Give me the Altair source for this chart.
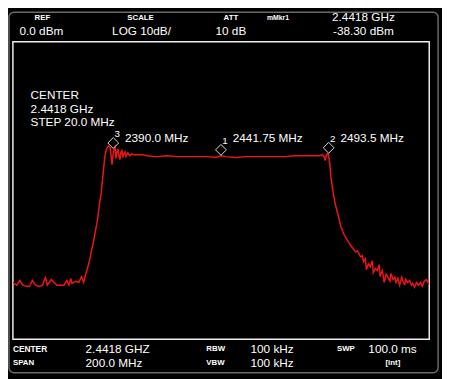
import altair as alt
import pandas as pd

# ---------------- data ----------------
freq_mhz = [
    2341.8, 2342.3, 2343.7, 2345.1, 2346.5, 2348.4, 2349.8, 2351.2, 2352.7, 2354.5,
    2356.0, 2357.4, 2358.3, 2360.2, 2361.6, 2363.0, 2364.9, 2366.3, 2367.7, 2368.7,
    2369.6, 2370.1, 2372.0, 2373.4, 2374.8, 2375.8,
    2376.7, 2377.6, 2378.6, 2379.5, 2380.5, 2381.4, 2382.4, 2383.3, 2384.3, 2385.2,
    2385.7, 2386.1, 2386.6, 2387.6, 2388.5, 2389.0, 2389.4, 2389.9, 2390.4, 2390.9,
    2391.3, 2391.8, 2392.3, 2392.7, 2393.2, 2393.7, 2394.2, 2394.6, 2395.1, 2395.6,
    2396.1, 2397.0, 2397.9, 2398.9, 2399.8, 2401.7, 2404.1, 2406.4, 2409.7,
    2411.1, 2415.9, 2420.6, 2425.3, 2430.0, 2434.7, 2439.4, 2441.8, 2444.1, 2448.9,
    2453.6, 2458.3, 2463.0, 2467.7, 2472.5, 2477.2, 2481.9, 2486.6, 2489.0, 2490.4,
    2491.3, 2491.8, 2492.3, 2492.7, 2493.2, 2493.7, 2494.2, 2494.6, 2495.1, 2495.6,
    2496.5, 2497.5, 2498.4, 2499.3, 2500.8, 2502.2, 2503.6, 2505.0, 2506.4, 2507.4,
    2508.8, 2509.7, 2510.2, 2511.1, 2511.6, 2512.6, 2513.5, 2514.4, 2514.9, 2515.9,
    2516.8, 2517.7, 2518.2, 2519.2, 2519.6, 2520.1, 2521.1, 2522.0, 2522.9, 2523.4,
    2524.4, 2525.3, 2525.8, 2526.7, 2527.6, 2528.6, 2529.1, 2530.0, 2530.5, 2531.4,
    2532.4, 2533.3, 2533.8, 2534.7, 2535.7, 2536.6, 2537.6, 2538.5, 2539.4, 2540.4,
    2541.3, 2541.8,
]
level_dbm = [
    -80.9, -81.2, -81.8, -80.2, -81.8, -82.2, -82.2, -80.2, -81.8, -82.2,
    -81.8, -79.2, -81.8, -79.9, -80.9, -81.8, -81.8, -81.8, -80.2, -81.8,
    -79.5, -81.2, -80.5, -80.9, -78.9, -80.9,
    -78.2, -76.2, -73.6, -70.3, -67.3, -63.7, -60.1, -55.1, -50.2, -43.9,
    -40.3, -38.0, -36.3, -35.0, -35.6, -38.3, -41.3, -38.0, -36.0, -35.3,
    -39.3, -37.0, -36.0, -38.3, -39.6, -37.0, -36.6, -38.9, -37.6, -37.0,
    -38.6, -37.3, -38.3, -37.6, -38.0, -38.0, -38.0, -38.3, -38.6,
    -38.6, -38.3, -38.6, -38.6, -38.6, -38.6, -38.9, -38.3, -38.6, -38.9,
    -38.6, -38.6, -38.6, -38.6, -38.6, -38.3, -38.3, -38.3, -38.3, -38.0,
    -38.6, -39.9, -38.3, -37.6, -37.6, -39.3, -42.2, -45.5, -48.2, -50.5,
    -54.1, -56.8, -59.4, -62.0, -64.7, -66.3, -68.0, -69.3, -70.6, -70.3,
    -72.3, -71.9, -73.9, -72.9, -76.6, -74.6, -75.6, -73.6, -77.6, -76.2,
    -76.9, -74.9, -78.9, -76.9, -78.2, -80.9, -78.2, -79.2, -80.5, -77.9,
    -79.9, -79.2, -80.9, -79.5, -81.8, -79.2, -80.5, -81.5, -79.9, -80.9,
    -80.2, -81.8, -81.2, -82.5, -80.9, -81.8, -80.9, -82.2, -80.5, -79.9,
    -80.9, -81.8,
]

marker_ids = ["3", "1", "2"]
marker_freq = [2390.0, 2441.75, 2493.5]
marker_level = [-36.0, -38.3, -37.6]
marker_text = ["2390.0 MHz", "2441.75 MHz", "2493.5 MHz"]

x_domain = [2341.8, 2541.8]
x_grid = [2341.8, 2361.8, 2381.8, 2401.8, 2421.8, 2441.8, 2461.8, 2481.8, 2501.8, 2521.8, 2541.8]
y_domain = [-100, 0]
y_grid = [-100, -90, -80, -70, -60, -50, -40, -30, -20, -10, 0]

header_labels = ["REF", "SCALE", "ATT", "mMkr1"]
header_values = ["0.0 dBm", "LOG 10dB/", "10 dB", "2.4418 GHz", "-38.30 dBm"]
footer_labels = ["CENTER", "RBW", "SWP", "SPAN", "VBW"]
footer_values = ["2.4418 GHZ", "100 kHz", "100.0 ms", "200.0 MHz", "100 kHz", "[int]"]
center_block = ["CENTER", "2.4418 GHz", "STEP 20.0 MHz"]

# ---------------- chart ----------------
FONT = "Liberation Sans"
GRID = "#3a3a3a"
W, H = 424, 303

trace = pd.DataFrame({"freq": freq_mhz, "dbm": level_dbm})
markers = pd.DataFrame({"id": marker_ids, "freq": marker_freq, "dbm": marker_level,
                        "label": marker_text})

xs = alt.Scale(domain=x_domain, nice=False, zero=False)
ys = alt.Scale(domain=y_domain, nice=False, zero=False)

X = alt.X("freq:Q", scale=xs,
          axis=alt.Axis(values=x_grid, grid=True, gridColor=GRID, gridWidth=1,
                        labels=False, ticks=False, domain=False, title=None))
Y = alt.Y("dbm:Q", scale=ys,
          axis=alt.Axis(values=y_grid, grid=True, gridColor=GRID, gridWidth=1,
                        labels=False, ticks=False, domain=False, title=None))
Xn = alt.X("freq:Q", scale=xs, axis=None)
Yn = alt.Y("dbm:Q", scale=ys, axis=None)

one = alt.Data(values=[{}])


def txt(s, x, y, size=12, bold=False, align="left"):
    return alt.Chart(one).mark_text(
        font=FONT, fontSize=size, fontWeight="bold" if bold else "normal",
        color="white", align=align, baseline="middle",
    ).encode(x=alt.value(x), y=alt.value(y), text=alt.value(s))


layers = []

# trace (carries the grid axes)
layers.append(alt.Chart(trace).mark_line(color="#f01414", strokeWidth=1.5, clip=True)
              .encode(x=X, y=Y))

# black box behind the CENTER block
layers.append(alt.Chart(one).mark_rect(color="black").encode(
    x=alt.value(15), x2=alt.value(106), y=alt.value(47), y2=alt.value(88)))

# black boxes behind marker frequency labels
widths = [68, 74, 68]
for i in range(3):
    layers.append(alt.Chart(markers.iloc[[i]]).mark_rect(
        color="black", xOffset=10, x2Offset=10 + widths[i]).encode(
        x=Xn, x2="freq:Q", y=alt.value(90), y2=alt.value(105)))

# marker diamonds
layers.append(alt.Chart(markers).mark_point(
    shape="diamond", size=121, filled=False, color="#d8d8d8", strokeWidth=1,
    opacity=1, yOffset=-6).encode(x=Xn, y=Yn))
# marker numbers
layers.append(alt.Chart(markers).mark_text(
    font=FONT, fontSize=10, color="white", align="center", baseline="middle",
    dx=4, dy=-15).encode(x=Xn, y=Yn, text="id:N"))
# marker frequency labels
layers.append(alt.Chart(markers).mark_text(
    font=FONT, fontSize=12, color="white", align="left", baseline="middle",
    dx=12).encode(x=Xn, y=alt.value(98), text="label:N"))

# outer frame (kept inside the drawing surface)
layers.append(alt.Chart(one).mark_rect(
    fillOpacity=0, stroke="#6a6a6a", strokeWidth=1.5, cornerRadius=5).encode(
    x=alt.value(-4), x2=alt.value(433), y=alt.value(-30), y2=alt.value(337)))

# header
layers += [
    txt(header_labels[0], 30, -24, 8, True, "center"),
    txt(header_labels[1], 130, -24, 8, True, "center"),
    txt(header_labels[2], 222, -24, 8, True, "center"),
    txt(header_labels[3], 270, -24, 7, True, "center"),
    txt(header_values[0], 29, -11, 12, False, "center"),
    txt(header_values[1], 131, -11, 12, False, "center"),
    txt(header_values[2], 222, -11, 12, False, "center"),
    txt(header_values[3], 357, -25, 12, False, "center"),
    txt(header_values[4], 357, -11, 12, False, "center"),
]
# footer
layers += [
    txt(footer_labels[0], 0, 313, 8.5, True),
    txt(footer_labels[1], 197, 313, 8, True),
    txt(footer_labels[2], 330, 313, 8, True),
    txt(footer_labels[3], 0, 327, 8, True),
    txt(footer_labels[4], 197, 327, 8, True),
    txt(footer_values[0], 74, 313),
    txt(footer_values[1], 242, 313),
    txt(footer_values[2], 362, 313),
    txt(footer_values[3], 74, 327),
    txt(footer_values[4], 242, 327),
    txt(footer_values[5], 387, 327, 8, True, "center"),
]
# CENTER block
layers += [
    txt(center_block[0], 18, 54),
    txt(center_block[1], 18, 68.5),
    txt(center_block[2], 18, 82),
]

css = "html,body{background:#000;overflow:hidden;}"

chart = alt.layer(*layers).properties(
    width=W, height=H,
    background="black",
    autosize=alt.AutoSizeParams(type="none"),
    padding={"left": 5, "top": 31, "right": 13, "bottom": 37},
    usermeta={"embedOptions": {"defaultStyle": css}},
).configure_view(stroke="#eeeeee", strokeWidth=1.5)

chart.save("out.html", embed_options={"renderer": "svg", "actions": False})
